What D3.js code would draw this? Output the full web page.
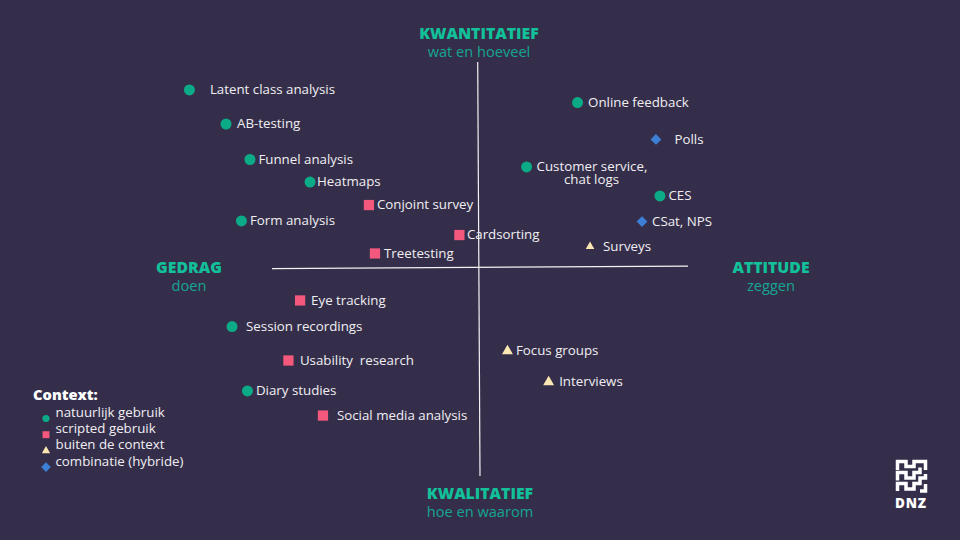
<!DOCTYPE html>
<html><head><meta charset="utf-8">
<script src="https://cdn.jsdelivr.net/npm/d3@7/dist/d3.min.js"></script>
<style>html,body{margin:0;padding:0;background:#352e4a}svg{display:block}text{font-family:"Open Sans",sans-serif}</style>
</head><body><svg id="c" width="960" height="540"></svg>
<script>
const methods = ["Latent class analysis","AB-testing","Funnel analysis","Heatmaps","Conjoint survey","Form analysis","Cardsorting","Treetesting","Online feedback","Polls","Customer service,","CES","CSat, NPS","Surveys","Eye tracking","Session recordings","Usability  research","Diary studies","Social media analysis","Focus groups","Interviews"];
const doen = [-139.7,-122.1,-110.6,-81.7,-53.4,-114.7,-9.9,-50.5,46.9,84.6,22.4,86.5,77.9,52.9,-86.5,-119.2,-92.1,-111.8,-75.5,13.2,33.0];
const kwant = [86.5,70.0,52.9,42.0,30.9,23.2,16.4,7.5,80.4,62.6,49.3,35.3,22.9,10.9,-15.2,-27.8,-44.2,-58.9,-70.8,-39.6,-54.6];
const context = ["n","n","n","n","s","n","s","s","n","h","n","n","h","b","s","n","s","n","s","b","b"];
const legendKeys = ["n","s","b","h"];
const legendLabels = ["natuurlijk gebruik","scripted gebruik","buiten de context","combinatie (hybride)"];

const labelGap = [20.5,11,8.5,7,8,8.5,7.5,9,10.5,18.5,10,8.5,10,13,11,14,11.5,8.5,14,8.5,10.5];
const x = d3.scaleLinear().domain([-100,100]).range([272,688]);
const y = d3.scaleLinear().domain([-100,100]).range([476,62]);
const svg = d3.select("#c");
svg.append("rect").attr("width",960).attr("height",540).attr("fill","#352e4a");

const colour = d3.scaleOrdinal().domain(legendKeys).range(["#0cab87","#f4587d","#fbe7b2","#3c7fd6"]);
const sym = d3.scaleOrdinal().domain(legendKeys).range([d3.symbolCircle,d3.symbolSquare,d3.symbolTriangle,d3.symbolSquare]);
const area = d3.scaleOrdinal().domain(legendKeys).range([95,105,52,58]);
const legArea = d3.scaleOrdinal().domain(legendKeys).range([40,48,30,46]);
const rot = k => k==="h" ? " rotate(45)" : "";

// axes
svg.append("line").attr("x1",x(-100)).attr("y1",y(0.2)).attr("x2",x(100)).attr("y2",y(1.4)).attr("stroke","#f2f2f2").attr("stroke-width",1.2);
svg.append("line").attr("x1",x(-1.1)).attr("y1",y(100)).attr("x2",x(0)).attr("y2",y(-100)).attr("stroke","#f2f2f2").attr("stroke-width",1.2);

// axis captions
const capt=[["KWANTITATIEF","wat en hoeveel",479,39,57],["KWALITATIEF","hoe en waarom",480,499,517],["GEDRAG","doen",189,273,291],["ATTITUDE","zeggen",771,273,291]];
capt.forEach(c=>{
 svg.append("text").attr("x",c[2]).attr("y",c[3]).attr("text-anchor","middle").attr("font-size",15.8).attr("font-weight",800).attr("fill","#12c09a").text(c[0]);
 svg.append("text").attr("x",c[2]).attr("y",c[4]).attr("text-anchor","middle").attr("font-size",14.6).attr("fill","#15a592").text(c[1]);
});

// marks
const g = svg.selectAll("g.m").data(methods).join("g").attr("class","m");
g.append("path").attr("transform",(d,i)=>`translate(${x(doen[i])},${y(kwant[i])})`+rot(context[i])+(d==="Surveys"?" scale(.78)":""))
 .attr("d",(d,i)=>d3.symbol().type(sym(context[i])).size(area(context[i]))())
 .attr("fill",(d,i)=>colour(context[i]));
const lab = g.append("text").attr("x",(d,i)=>x(doen[i])+labelGap[i]).attr("y",(d,i)=>y(kwant[i])+4.3)
 .attr("font-size",13.3).attr("fill","#f0eef2").style("white-space","pre");
lab.append("tspan").text(d=>d);
lab.filter(d=>d==="Customer service,").append("tspan").attr("x",564).attr("dy",13).text("chat logs");

// legend
svg.append("text").attr("x",33).attr("y",400).attr("font-size",14.7).attr("font-weight",800).attr("fill","#ffffff").text("Context:");
const lg = svg.selectAll("g.l").data(legendLabels).join("g").attr("class","l").attr("transform",(d,i)=>`translate(0,${417+i*16.2})`);
lg.append("path").attr("transform",(d,i)=>"translate(46,1.5)"+rot(legendKeys[i])).attr("d",(d,i)=>d3.symbol().type(sym(legendKeys[i])).size(legArea(legendKeys[i]))()).attr("fill",(d,i)=>colour(legendKeys[i]));
lg.append("text").attr("x",55.5).attr("y",0).attr("font-size",13.3).attr("fill","#f0eef2").text(d=>d);

// logo
const logo = svg.append("g").attr("transform","translate(896,460)").attr("fill","none").attr("stroke","#fff").attr("stroke-width",3.5);
["M1.5 10V1.5H10V6.5H18V1.5H29.5V10","M1.5 20.5V12.5H10V18H18V12.5H24V7.5","M1.5 31V23.5H10V29H18V23.5H24V18H29.5V14","M29.5 24V31H24"].forEach(p=>logo.append("path").attr("d",p));
svg.append("text").attr("x",911).attr("y",508).attr("text-anchor","middle").attr("font-size",13.5).attr("font-weight",800).attr("letter-spacing",0.8).attr("fill","#fff").text("DNZ");
</script></body></html>
